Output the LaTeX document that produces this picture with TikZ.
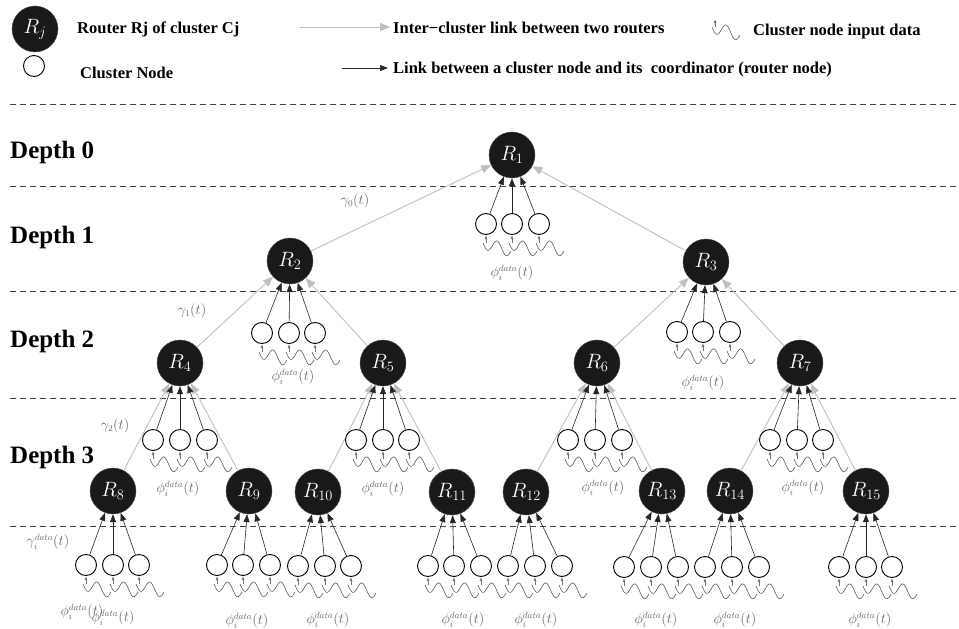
\documentclass[tikz,border=0pt]{standalone}
\usepackage{fontspec}
\setmainfont{Liberation Serif}
\usetikzlibrary{arrows.meta}
\tikzset{
  router/.style={circle, fill=black!90, draw=black!70, line width=0.4pt, minimum size=46pt, inner sep=0pt, text=white, font=\fontsize{20}{20}\selectfont},
  cnode/.style={circle, draw=black, fill=white, line width=0.9pt, minimum size=21pt, inner sep=0pt},
  ilink/.style={draw=black!25, line width=0.9pt, -{Triangle[length=10pt,width=8pt]}},
  clink/.style={draw=black!85, line width=0.6pt, -{Triangle[length=8pt,width=6pt]}},
  lbl/.style={text=black!60, font=\fontsize{13.5}{13.5}\selectfont, inner sep=0pt},
  depthlbl/.style={anchor=base west, inner sep=0pt, font=\fontsize{25}{25}\selectfont\bfseries},
  leg/.style={anchor=base west, inner sep=0pt, font=\fontsize{16.5}{18}\selectfont\bfseries},
  sep/.style={draw=black!75, line width=0.9pt, dash pattern=on 6pt off 4pt},
  squig/.pic={
    \draw[black!55, line width=0.5pt, -{Triangle[length=3.5pt,width=2.5pt]}] (0,19) -- (0,11.5);
    \draw[black!65, line width=0.6pt] plot[domain=0:1, samples=60, smooth] ({-3+28*\x}, {19+8*\x+6*sin(540*\x)});
  }
}
\newcommand{\cgrp}[5]{%
  \foreach \k/\xx in {a/#2, b/#3, c/#4} {
    \node[cnode] (#1\k) at (\xx,#5) {};
    \draw[clink] (#1\k) -- (#1);
    \pic at (\xx,#5) {squig};
  }%
}
\begin{document}
\begin{tikzpicture}[x=1pt,y=-1pt]
\useasboundingbox (0,0) rectangle (959,629);

% legend
\node[router] (lr) at (35,29) {$R_j$};
\node[leg] (lt1) at (77,34) {Router Rj of cluster Cj};
\node[cnode] (lc) at (34,66) {};
\node[leg] (lt2) at (80,78) {Cluster Node};
\coordinate (ia) at (300,27);
\coordinate (ib) at (390,27);
\draw[ilink] (ia) -- (ib);
\node[leg] (lt3) at (393,33) {Inter−cluster link between two routers};
\coordinate (la) at (342,68);
\coordinate (lb) at (388,68);
\draw[clink] (la) -- (lb);
\node[leg] (lt4) at (393,73) {Link between a cluster node and its\ \ coordinator (router node)};
\pic at (715,8) {squig};
\node[leg] (lt5) at (753,35) {Cluster node input data};

% separators
\foreach \yy/\nm in {104/s0,186/s1,291/s2,398/s3,526/s4} {
  \coordinate (\nm a) at (10,\yy);
  \coordinate (\nm b) at (959,\yy);
  \draw[sep] (\nm a) -- (\nm b);
}

% depth labels
\node[depthlbl] (d0) at (10,158) {Depth 0};
\node[depthlbl] (d1) at (10,243) {Depth 1};
\node[depthlbl] (d2) at (10,347) {Depth 2};
\node[depthlbl] (d3) at (10,463) {Depth 3};

% routers
\node[router] (R1) at (512,155) {$R_1$};
\node[router] (R2) at (290,261) {$R_2$};
\node[router] (R3) at (706,262) {$R_3$};
\node[router] (R4) at (180,363) {$R_4$};
\node[router] (R5) at (383,363) {$R_5$};
\node[router] (R6) at (597,363) {$R_6$};
\node[router] (R7) at (800,363) {$R_7$};
\node[router] (R8) at (113,491) {$R_8$};
\node[router] (R9) at (249,491) {$R_9$};
\node[router] (R10) at (318,492) {$R_{10}$};
\node[router] (R11) at (452,492) {$R_{11}$};
\node[router] (R12) at (526,492) {$R_{12}$};
\node[router] (R13) at (662,491) {$R_{13}$};
\node[router] (R14) at (730,491) {$R_{14}$};
\node[router] (R15) at (866,491) {$R_{15}$};

% inter-cluster links
\foreach \c/\p in {R2/R1,R3/R1,R4/R2,R5/R2,R6/R3,R7/R3,R8/R4,R9/R4,R10/R5,R11/R5,R12/R6,R13/R6,R14/R7,R15/R7}
  \draw[ilink] (\c) -- (\p);

% cluster groups
\cgrp{R1}{486}{512}{539}{224}
\cgrp{R2}{262}{289}{315}{333}
\cgrp{R3}{677}{703}{730}{332}
\cgrp{R4}{153}{180}{207}{440}
\cgrp{R5}{356}{383}{409}{440}
\cgrp{R6}{568}{595}{622}{440}
\cgrp{R7}{770}{797}{823}{440}
\cgrp{R8}{86}{113}{139}{565}
\cgrp{R9}{217}{243}{270}{565}
\cgrp{R10}{298}{325}{351}{566}
\cgrp{R11}{428}{454}{481}{566}
\cgrp{R12}{508}{535}{562}{566}
\cgrp{R13}{624}{651}{678}{567}
\cgrp{R14}{705}{732}{759}{567}
\cgrp{R15}{839}{866}{892}{567}

% gamma labels
\node[lbl] (g0) at (355,201) {$\gamma_0(t)$};
\node[lbl] (g1) at (192,311) {$\gamma_1(t)$};
\node[lbl] (g2) at (115,426) {$\gamma_2(t)$};
\node[lbl] (gd) at (48,542) {$\gamma_i^{data}(t)$};

% phi labels
\foreach \xx/\yy/\nm in {512/273/p1, 293/377/p2, 703/383/p3, 178/489/p4, 383/489/p5, 603/488/p6, 803/488/p7,
  82/612/p8a, 113/618/p8b, 247/621/p9, 328/620/p10, 463/620/p11, 536/620/p12, 656/620/p13, 735/620/p14, 870/620/p15}
  \node[lbl] (\nm) at (\xx,\yy) {$\phi_i^{data}(t)$};
\end{tikzpicture}
\end{document}
